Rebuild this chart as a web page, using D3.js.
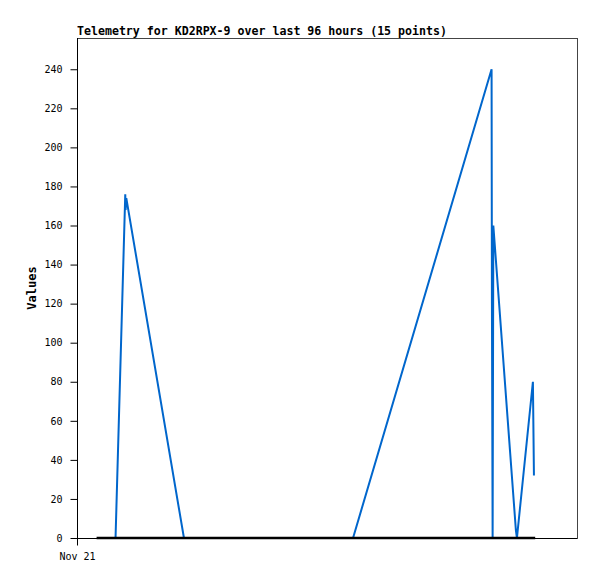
<!DOCTYPE html>
<html>
<head>
<meta charset="utf-8">
<script src="https://cdn.jsdelivr.net/npm/d3@7"></script>
<style>
  html, body { margin: 0; padding: 0; background: #fff; }
  svg { display: block; }
</style>
</head>
<body>
<svg id="chart" width="597" height="579"></svg>
<script>
const titleText = "Telemetry for KD2RPX-9 over last 96 hours (15 points)";
const yLabel = "Values";
const times = [
  "2023-11-21T01:00", "2023-11-21T01:51", "2023-11-21T02:19", "2023-11-21T02:20",
  "2023-11-21T02:22", "2023-11-21T05:08", "2023-11-21T13:15", "2023-11-21T19:54",
  "2023-11-21T19:55", "2023-11-21T19:57", "2023-11-21T19:59", "2023-11-21T21:04",
  "2023-11-21T21:07", "2023-11-21T21:53", "2023-11-21T21:56"
];
const values = [0, 0, 176, 168, 174, 0, 0, 240, 120, 0, 160, 4, 0, 80, 32];
const baseline = [0, 0, 0, 0, 0, 0, 0, 0, 0, 0, 0, 0, 0, 0, 0];
const yTicks = [0, 20, 40, 60, 80, 100, 120, 140, 160, 180, 200, 220, 240];
const xDomain = ["2023-11-21T00:00", "2023-11-22T00:00"];
const xTickValues = ["2023-11-21T00:00"];

const parse = d3.timeParse("%Y-%m-%dT%H:%M");
const m = { left: 77, top: 38, right: 577, bottom: 538 };

const svg = d3.select("#chart");
const x = d3.scaleTime().domain(xDomain.map(parse)).range([m.left, m.right]);
const y = d3.scaleLinear().domain([0, 256]).range([m.bottom, m.top]);

const mono = "'DejaVu Sans Mono', 'Liberation Mono', monospace";

// frame
svg.append("rect")
  .attr("x", m.left + 0.5).attr("y", m.top + 0.5)
  .attr("width", m.right - m.left).attr("height", m.bottom - m.top)
  .attr("fill", "none").attr("stroke", "#444").attr("stroke-width", 1);

// title
svg.append("text")
  .attr("x", m.left).attr("y", 35)
  .attr("font-family", mono).attr("font-weight", "bold").attr("font-size", "11.6px")
  .attr("fill", "#000").text(titleText);

// y axis
const yAxis = d3.axisLeft(y).tickValues(yTicks).tickSize(7).tickPadding(8);
const gy = svg.append("g").attr("transform", `translate(${m.left + 0.5},0)`).call(yAxis);
gy.select(".domain").attr("stroke", "#000").attr("d", `M0,${m.top}V${m.bottom + 7}`);
gy.selectAll(".tick line").attr("stroke", "#000");
gy.selectAll(".tick text").attr("font-family", mono).attr("font-size", "10px").attr("fill", "#000");

// x axis
const xAxis = d3.axisBottom(x).tickValues(xTickValues.map(parse))
  .tickFormat(d3.timeFormat("%b %d")).tickSize(7).tickPadding(7);
const gx = svg.append("g").attr("transform", `translate(0,${m.bottom + 0.5})`).call(xAxis);
gx.select(".domain").attr("stroke", "#000").attr("d", `M${m.left},0H${m.right}`);
gx.selectAll(".tick line").attr("stroke", "#000");
gx.selectAll(".tick text").attr("font-family", mono).attr("font-size", "10px").attr("fill", "#000");

// y label
svg.append("text")
  .attr("transform", `translate(36,${(m.top + m.bottom) / 2}) rotate(-90)`)
  .attr("text-anchor", "middle")
  .attr("font-family", mono).attr("font-weight", "bold").attr("font-size", "12px")
  .attr("fill", "#000").text(yLabel);

const pts = times.map((t, i) => ({ t: parse(t), v: values[i], b: baseline[i] }));

const line = d3.line().x(d => x(d.t)).y(d => y(d.v));
svg.append("path").datum(pts)
  .attr("d", line).attr("fill", "none")
  .attr("stroke", "#0066cc").attr("stroke-width", 2).attr("stroke-linejoin", "miter");

const baseLine = d3.line().x(d => x(d.t)).y(d => y(d.b));
svg.append("path").datum(pts)
  .attr("d", baseLine).attr("fill", "none")
  .attr("stroke", "#000").attr("stroke-width", 2.5).attr("stroke-linecap", "square");
</script>
</body>
</html>
